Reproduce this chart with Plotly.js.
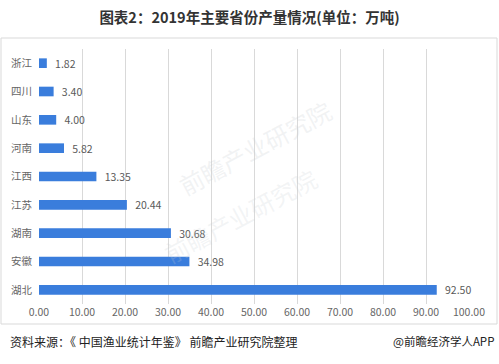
<!DOCTYPE html>
<html>
<head>
<meta charset="utf-8">
<script src="https://cdn.plot.ly/plotly-3.0.1.min.js"></script>
<style>
html,body{margin:0;padding:0;background:#fff;}
#chart{width:499px;height:364px;}
</style>
</head>
<body>
<div id="chart"></div>
<script>
const provinces = ['浙江', '四川', '山东', '河南', '江西', '江苏', '湖南', '安徽', '湖北'];
const output = [1.82, 3.40, 4.00, 5.82, 13.35, 20.44, 30.68, 34.98, 92.50];
const xTicks = [0, 10, 20, 30, 40, 50, 60, 70, 80, 90, 100];
const xTickLabels = xTicks.map(v => v.toFixed(2));
const titleText = '图表2：2019年主要省份产量情况(单位：万吨)';
const sourceText = '资料来源：《 中国渔业统计年鉴》 前瞻产业研究院整理';
const creditText = '@前瞻经济学人APP';

const font = 'Noto Sans CJK SC, Noto Sans, sans-serif';

const trace = {
  type: 'bar',
  orientation: 'h',
  y: provinces,
  x: output,
  marker: {color: '#3a7ddc'},
  width: 0.34,
  text: output.map(v => '\u2002' + v.toFixed(2)),
  textposition: 'outside',
  constraintext: 'none',
  cliponaxis: false,
  textfont: {family: font, size: 10.5, color: '#595959'},
  hoverinfo: 'none'
};

const layout = {
  width: 499,
  height: 364,
  margin: {l: 39, r: 30, t: 49, b: 60},
  paper_bgcolor: '#fff',
  plot_bgcolor: '#fff',
  showlegend: false,
  font: {family: font, color: '#595959'},
  title: {
    text: '<b>' + titleText + '</b>',
    font: {family: font, size: 14.5, color: '#333'},
    x: 0.5, xanchor: 'center',
    y: 1 - 18 / 364, yanchor: 'middle', yref: 'container'
  },
  xaxis: {
    range: [0, 100],
    tickvals: xTicks,
    ticktext: xTickLabels,
    showgrid: true,
    gridcolor: '#d9d9d9',
    gridwidth: 1,
    zeroline: false,
    showline: false,
    ticks: '',
    ticklen: 0,
    tickfont: {family: font, size: 10.5, color: '#666'},
    fixedrange: true
  },
  yaxis: {
    categoryorder: 'array',
    categoryarray: provinces,
    autorange: 'reversed',
    showgrid: false,
    zeroline: false,
    showline: false,
    ticks: '',
    ticklen: 0,
    ticklabelstandoff: 6,
    tickfont: {family: font, size: 10.5, color: '#666'},
    fixedrange: true
  },
  shapes: [
    {type: 'rect', xref: 'paper', yref: 'paper', layer: 'below',
     x0: (1 - 39) / 430, x1: (497 - 39) / 430,
     y0: (304 - 324) / 255, y1: (304 - 38) / 255,
     line: {color: '#d9d9d9', width: 1}, fillcolor: 'rgba(0,0,0,0)'}
  ],
  annotations: [
    {text: sourceText, xref: 'paper', yref: 'paper',
     x: (8 - 39) / 430, y: (304 - 341) / 255, xanchor: 'left', yanchor: 'middle',
     showarrow: false, font: {family: font, size: 12, color: '#222'}},
    {text: creditText, xref: 'paper', yref: 'paper',
     x: (496 - 39) / 430, y: (304 - 341) / 255, xanchor: 'right', yanchor: 'middle',
     showarrow: false, font: {family: font, size: 11.5, color: '#222'}},
    {text: '前瞻产业研究院', xref: 'paper', yref: 'paper',
     x: (340 - 39) / 430, y: (304 - 90) / 255, textangle: -28,
     showarrow: false, font: {family: font, size: 24, color: 'rgba(200,205,210,0.25)'}},
    {text: '前瞻产业研究院', xref: 'paper', yref: 'paper',
     x: (240 - 39) / 430, y: (304 - 215) / 255, textangle: -28,
     showarrow: false, font: {family: font, size: 24, color: 'rgba(200,205,210,0.22)'}}
  ]
};

Plotly.newPlot('chart', [trace], layout, {displayModeBar: false, staticPlot: true});
</script>
</body>
</html>
